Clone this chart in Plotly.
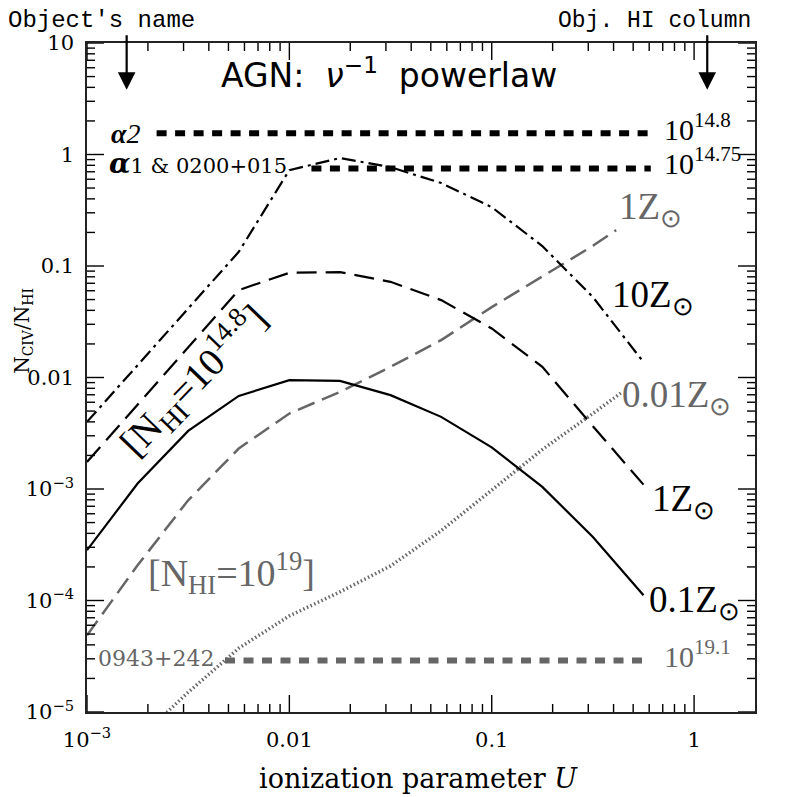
import plotly.graph_objects as go

# ---------------- data (log10 values) ----------------
# 0.1 Zsun, N_HI = 10^14.8 (solid)
u_z01 = [-3.0, -2.75, -2.5, -2.25, -2.0, -1.75, -1.5, -1.25, -1.0, -0.75, -0.5, -0.25]
n_z01 = [-3.549, -2.951, -2.479, -2.165, -2.024, -2.030, -2.158, -2.353, -2.627, -2.981, -3.430, -3.953]

# 1 Zsun, N_HI = 10^14.8 (long dash)
u_z1 = [-3.0, -2.25, -2.0, -1.75, -1.5, -1.25, -1.0, -0.75, -0.5, -0.25]
n_z1 = [-2.757, -1.216, -1.061, -1.055, -1.142, -1.306, -1.560, -1.904, -2.437, -2.961]

# 10 Zsun, N_HI = 10^14.8 (dash-dot)
u_z10 = [-3.0, -2.25, -2.0, -1.75, -1.5, -1.25, -1.0, -0.75, -0.5, -0.25]
n_z10 = [-2.398, -0.873, -0.140, -0.032, -0.113, -0.256, -0.472, -0.821, -1.279, -1.862]

# 1 Zsun, N_HI = 10^19 (grey dash)
u_z1_19 = [-3.0, -2.75, -2.5, -2.25, -2.0, -1.75, -1.5, -1.25, -1.0, -0.75, -0.5, -0.385]
n_z1_19 = [-4.312, -3.684, -3.101, -2.637, -2.323, -2.129, -1.904, -1.665, -1.369, -1.097, -0.819, -0.678]

# 0.01 Zsun, N_HI = 10^19 (grey dotted)
u_z001_19 = [-2.75, -2.5, -2.25, -2.0, -1.75, -1.5, -1.25, -1.0, -0.75, -0.5, -0.354]
n_z001_19 = [-5.25, -4.823, -4.428, -4.138, -3.923, -3.690, -3.374, -3.008, -2.646, -2.323, -2.129]

# observed objects (thick dashed horizontal lines)
obs_names = ["a2", "a1 & 0200+015", "0943+242"]
obs_ratio = [1.55, 0.75, 2.9e-5]
obs_u_start = [-2.656, -1.891, -2.318]
obs_u_end = [-0.214, -0.214, -0.239]
obs_hi = ["10<sup>14.8</sup>", "10<sup>14.75</sup>", "10<sup>19.1</sup>"]

x_tickvals = [1e-3, 1e-2, 1e-1, 1]
x_ticktext = ["10<sup>\u22123</sup>", "0.01", "0.1", "1"]
y_tickvals = [1e-5, 1e-4, 1e-3, 1e-2, 1e-1, 1, 10]
y_ticktext = ["10<sup>\u22125</sup>", "10<sup>\u22124</sup>", "10<sup>\u22123</sup>",
              "0.01", "0.1", "1", "10"]
minor_digits = [2, 3, 4, 5, 6, 7, 8, 9]

XR = [-3, 0.301]
YR = [-5, 1]
x_minor = [d * 10.0 ** e for e in [-3, -2, -1, 0] for d in minor_digits if d * 10.0 ** e < 10 ** XR[1]]
y_minor = [d * 10.0 ** e for e in [-5, -4, -3, -2, -1, 0] for d in minor_digits]

BLACK = "#000000"
GREY = "#666666"

W, H = 789, 789
ML, MR, MT, MB = 79, 42, 35, 85
PX_PER_DEX_X = (W - ML - MR) / (XR[1] - XR[0])
PX_PER_DEX_Y = (H - MT - MB) / (YR[1] - YR[0])

fig = go.Figure()

def add_curve(lu, ln, color, width, dash):
    fig.add_trace(go.Scatter(
        x=[10 ** v for v in lu], y=[10 ** v for v in ln], mode="lines",
        line=dict(color=color, width=width, dash=dash), showlegend=False,
        hoverinfo="skip"))

add_curve(u_z1_19, n_z1_19, GREY, 2.5, "18px,8px")
add_curve(u_z001_19, n_z001_19, GREY, 3.5, "1.5px,2.5px")
add_curve(u_z01, n_z01, BLACK, 2.2, "solid")
add_curve(u_z1, n_z1, BLACK, 2.2, "20px,9px")
add_curve(u_z10, n_z10, BLACK, 2.2, "14px,5px,3px,5px")

obs_colors = [BLACK, BLACK, GREY]
for r, a, b, c in zip(obs_ratio, obs_u_start, obs_u_end, obs_colors):
    fig.add_trace(go.Scatter(
        x=[10 ** a, 10 ** b], y=[r, r], mode="lines",
        line=dict(color=c, width=6, dash="10px,8.5px"), showlegend=False,
        hoverinfo="skip"))

# inward tick marks on all four sides, drawn as short segments
def tick_segments(vals, on_x, length_px):
    xs, ys = [], []
    if on_x:
        d = length_px / PX_PER_DEX_Y
        for v in vals:
            xs += [v, v, None, v, v, None]
            ys += [10 ** YR[0], 10 ** (YR[0] + d), None, 10 ** YR[1], 10 ** (YR[1] - d), None]
    else:
        d = length_px / PX_PER_DEX_X
        for v in vals:
            xs += [10 ** XR[0], 10 ** (XR[0] + d), None, 10 ** XR[1], 10 ** (XR[1] - d), None]
            ys += [v, v, None, v, v, None]
    fig.add_trace(go.Scatter(x=xs, y=ys, mode="lines", showlegend=False, hoverinfo="skip",
                             line=dict(color=BLACK, width=1.4), connectgaps=False))

tick_segments(x_tickvals, True, 17)
tick_segments(x_minor, True, 8)
tick_segments(y_tickvals, False, 17)
tick_segments(y_minor, False, 8)

SERIF = "Liberation Serif"
SERIF2 = "DejaVu Serif"

ann = []
def A(x, y, text, size, color=BLACK, family=SERIF, xanchor="left", yanchor="middle", angle=0):
    ann.append(dict(x=x, y=y, xref="x", yref="y", text=text, showarrow=False,
                    xanchor=xanchor, yanchor=yanchor, textangle=angle,
                    font=dict(size=size, color=color, family=family)))

# metallicity labels
A(-0.380, -0.490, "1Z<sub>\u2299</sub>", 37, GREY)
A(-0.415, -1.280, "10Z<sub>\u2299</sub>", 37, BLACK)
A(-0.366, -2.178, "0.01Z<sub>\u2299</sub>", 37, GREY)
A(-0.218, -3.115, "1Z<sub>\u2299</sub>", 37, BLACK)
A(-0.232, -4.015, "0.1Z<sub>\u2299</sub>", 37, BLACK)

# N_HI labels
A(-2.473, -2.030, "[N<sub>HI</sub>=10<sup>14.8</sup>]", 39, BLACK, xanchor="center", angle=-46)
A(-2.286, -3.750, "[N<sub>HI</sub>=10<sup>19</sup>]", 38, GREY, xanchor="center")

# object labels
A(-2.890, 0.192, "<b><i>\u03b1</i></b><i>2</i>", 28, BLACK, SERIF)
A(-2.900, -0.077, "<b><i>\u03b1</i></b><span style='font-size:21px'>1 &amp; 0200+015</span>", 28, BLACK, SERIF2)
A(-2.955, -4.518, "0943+242", 22, GREY, SERIF2)

# column densities on the right
A(-0.161, 0.248, obs_hi[0], 30, BLACK)
A(-0.161, -0.062, obs_hi[1], 30, BLACK)
A(-0.161, -4.482, obs_hi[2], 30, GREY)

# title
A(-1.506, 0.724, "AGN:  <i>\u03bd</i><sup>\u22121</sup>  powerlaw", 33, BLACK, "DejaVu Sans", xanchor="center")

# header labels and arrows (paper coordinates)
ann.append(dict(x=-0.122, y=1.033, xref="paper", yref="paper", text="Object's name",
                showarrow=False, xanchor="left", yanchor="middle",
                font=dict(size=24, family="Liberation Mono", color=BLACK)))
ann.append(dict(x=0.997, y=1.033, xref="paper", yref="paper", text="Obj. HI column",
                showarrow=False, xanchor="right", yanchor="middle",
                font=dict(size=23, family="Liberation Mono", color=BLACK)))
for xa in [-2.804, 0.065]:
    ann.append(dict(x=xa, y=0.93, xref="x", yref="paper", text="", showarrow=True,
                    ax=0, ay=-56, arrowhead=2, arrowsize=1.6, arrowwidth=2.2,
                    arrowcolor=BLACK))

# axis titles
ann.append(dict(x=-0.097, y=0.570, xref="paper", yref="paper",
                text="N<sub>CIV</sub>/N<sub>HI</sub>", showarrow=False, textangle=-90,
                xanchor="center", yanchor="middle",
                font=dict(size=20, family=SERIF2, color=BLACK)))
ann.append(dict(x=0.497, y=-0.0987, xref="paper", yref="paper",
                text="ionization parameter <i>U</i>", showarrow=False,
                xanchor="center", yanchor="middle",
                font=dict(size=27, family=SERIF2, color=BLACK)))

base = dict(type="log", showgrid=False, zeroline=False, showline=True, linecolor="#222",
            linewidth=1.5, mirror=True, ticks="", tickmode="array",
            tickfont=dict(family=SERIF2, size=21, color=BLACK))

fig.update_layout(
    width=W, height=H,
    margin=dict(l=ML, r=MR, t=MT, b=MB),
    paper_bgcolor="white", plot_bgcolor="white",
    annotations=ann,
    xaxis=dict(range=XR, tickvals=x_tickvals, ticktext=x_ticktext,
               ticklabelstandoff=8, **base),
    yaxis=dict(range=YR, tickvals=y_tickvals, ticktext=y_ticktext,
               ticklabelstandoff=7, **base),
)

fig.write_html("out.html")
